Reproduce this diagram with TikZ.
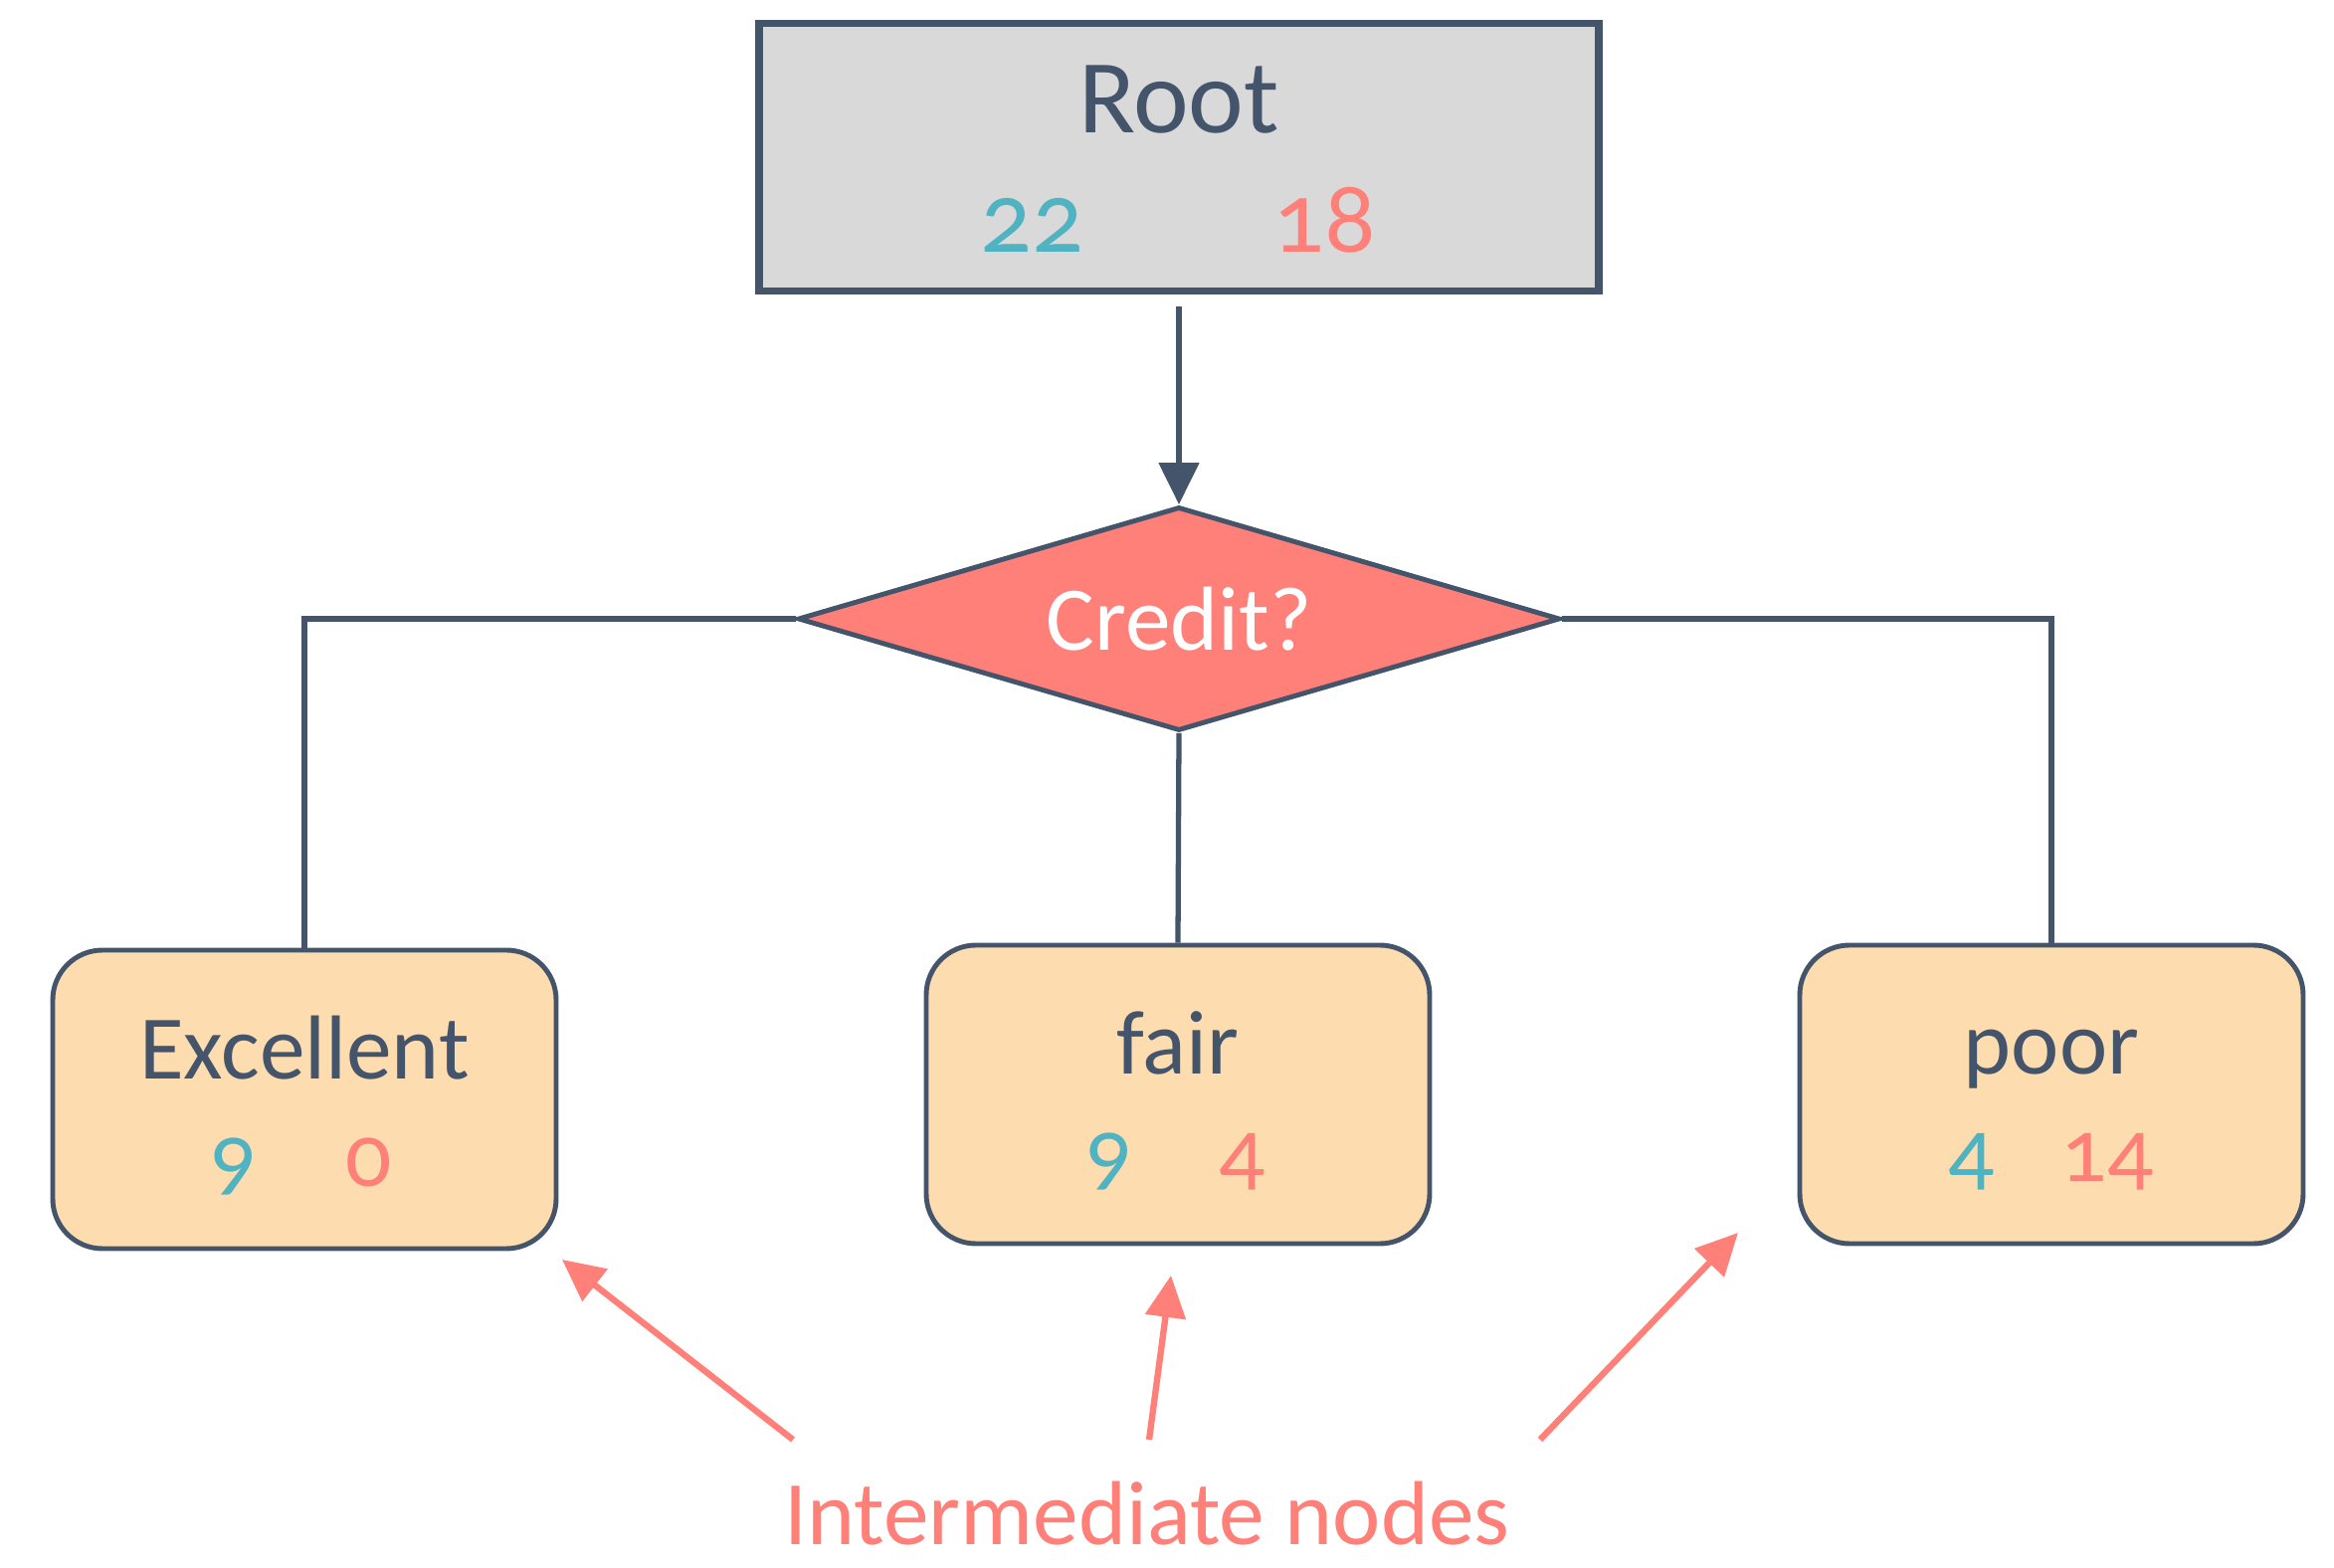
\documentclass[tikz,border=0pt]{standalone}
\usepackage{fontspec}
\setmainfont{Carlito}[Numbers=OldStyle]
\usepackage{tikz}
\usetikzlibrary{shapes.geometric, positioning, arrows.meta}
\definecolor{slate}{HTML}{44546A}
\definecolor{teal}{HTML}{4FB3C1}
\definecolor{salmon}{HTML}{FF7F79}
\definecolor{peach}{HTML}{FDDDAF}
\definecolor{rootgray}{HTML}{D9D9D9}

\begin{document}
\begin{tikzpicture}[
        every node/.style={text=slate},
        rootbox/.style={rectangle, draw=slate, line width=2.2pt, fill=rootgray, minimum width=8.44cm, minimum height=2.69cm},
        leaf/.style={rectangle, draw=slate, line width=1.4pt, rounded corners=0.5cm, fill=peach, minimum width=5.06cm, minimum height=3.0cm},
        test/.style={diamond, aspect=3.4, draw=slate, line width=1.4pt, fill=salmon, minimum width=7.66cm, minimum height=2.25cm, inner sep=0pt, text=white, font=\fontsize{26}{30}\selectfont},
        title/.style={anchor=base, font=\fontsize{#1}{#1}\selectfont},
        count/.style={anchor=base, text=#1, font=\fontsize{26}{30}\selectfont},
        edge/.style={draw=slate, line width=1.5pt},
        pointer/.style={draw=salmon, line width=1.8pt, -{Triangle[width=0.4cm, length=0.42cm]}}
    ]
    \useasboundingbox (0,0) rectangle (23.46,15.76);
%
    \node[rootbox] (root) at (11.85,14.18) {};
    \node[title=30] (rootname) at ([yshift=0.24cm]root.center) {Root};
    \node[count=teal, font=\fontsize{29}{33}\selectfont] (rootyes) at ([xshift=-1.48cm, yshift=-0.96cm]root.center) {22};
    \node[count=salmon, font=\fontsize{29}{33}\selectfont] (rootno) at ([xshift=1.46cm, yshift=-0.96cm]root.center) {18};
%
    \node[test] (credit) at (11.85,9.54) {Credit?};
%
    \node[leaf] (exc) at (3.06,4.71) {};
    \node[leaf] (fair) at (11.84,4.76) {};
    \node[leaf] (poor) at (20.62,4.76) {};
    \node[title=26] (excname) at ([yshift=0.2cm]exc.center) {Excellent};
    \node[title=26] (fairname) at ([yshift=0.2cm]fair.center) {fair};
    \node[title=26] (poorname) at ([yshift=0.2cm]poor.center) {poor};
    \node[count=teal] (excyes) at ([xshift=-0.71cm, yshift=-0.88cm]exc.center) {9};
    \node[count=salmon] (excno) at ([xshift=0.65cm, yshift=-0.88cm]exc.center) {0};
    \node[count=teal] (fairyes) at ([xshift=-0.69cm, yshift=-0.88cm]fair.center) {9};
    \node[count=salmon] (fairno) at ([xshift=0.65cm, yshift=-0.88cm]fair.center) {4};
    \node[count=teal] (pooryes) at ([xshift=-0.8cm, yshift=-0.88cm]poor.center) {4};
    \node[count=salmon] (poorno) at ([xshift=0.56cm, yshift=-0.88cm]poor.center) {14};
%
    \draw[edge, -{Triangle[width=0.4cm, length=0.42cm]}, shorten <=0.12cm] (root) -- (credit.north);
    \draw[edge] (credit.west) -| (exc.north);
    \draw[edge] (credit.south) -- (fair.north);
    \draw[edge] (credit.east) -| (poor.north);
%
    \node[text=salmon, font=\fontsize{26}{30}\selectfont] (inter) at (11.53,0.55) {Intermediate nodes};
    \coordinate (p1) at (7.97,1.29);
    \coordinate (p2) at (11.55,1.29);
    \coordinate (p3) at (15.48,1.29);
    \coordinate (t1) at (5.65,3.10);
    \coordinate (t2) at (11.77,2.94);
    \coordinate (t3) at (17.47,3.37);
    \draw[pointer] (p1) -- (t1);
    \draw[pointer] (p2) -- (t2);
    \draw[pointer] (p3) -- (t3);
%
\end{tikzpicture}
\end{document}
